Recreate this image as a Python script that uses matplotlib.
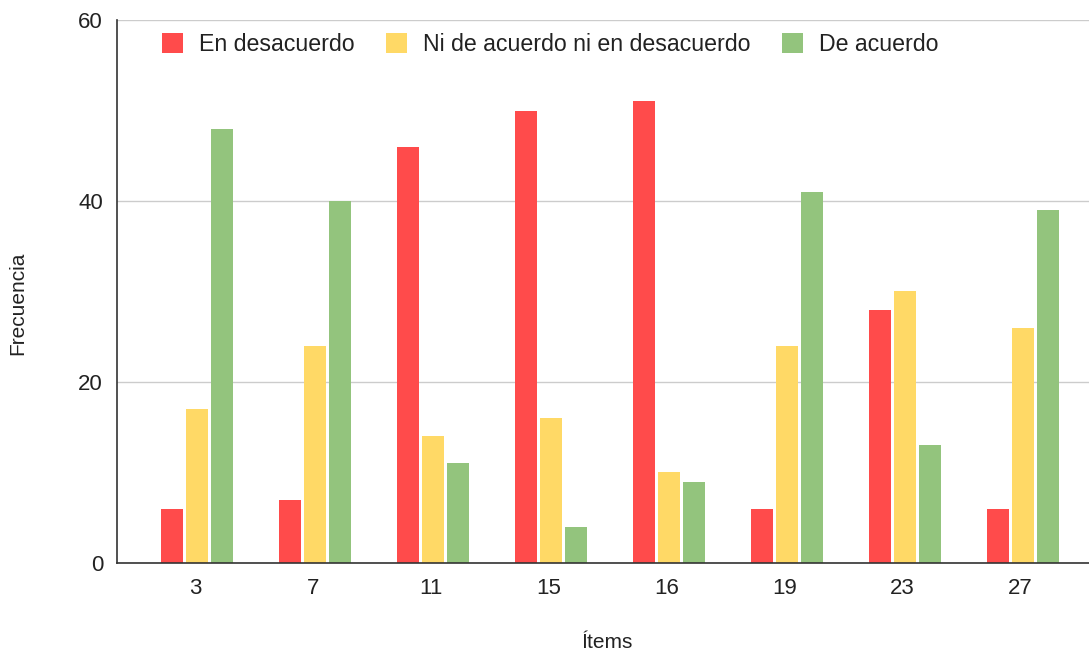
import numpy as np
from matplotlib import pyplot as plt

plt.rcParams['font.family'] = ['Liberation Sans', 'DejaVu Sans']

items = ['3', '7', '11', '15', '16', '19', '23', '27']
desacuerdo = [6, 7, 46, 50, 51, 6, 28, 6]
neutral = [17, 24, 14, 16, 10, 24, 30, 26]
acuerdo = [48, 40, 11, 4, 9, 41, 13, 39]

series = [
    ('En desacuerdo', desacuerdo, '#ff4b4b'),
    ('Ni de acuerdo ni en desacuerdo', neutral, '#ffd966'),
    ('De acuerdo', acuerdo, '#93c47d'),
]

fig = plt.figure(figsize=(10.89, 6.56), dpi=100)
ax = fig.add_axes([0.1074, 0.1418, 0.8926, 0.8277])

x = np.arange(len(items))
width = 0.186
step = 0.212
for i, (label, vals, color) in enumerate(series):
    ax.bar(x + (i - 1) * step + 0.02, vals, width, color=color, label=label, zorder=3)

ax.set_xlim(-0.66, 7.58)
ax.set_ylim(0, 60)
ax.set_yticks([0, 20, 40, 60])
ax.set_xticks(x)
ax.set_xticklabels(items)
ax.tick_params(length=0, labelsize=16, colors='#222222')
ax.tick_params(axis='y', pad=10)
ax.tick_params(axis='x', pad=11)
ax.grid(axis='y', color='#cccccc', linewidth=1, zorder=0)
for s in ['top', 'right']:
    ax.spines[s].set_visible(False)
for s in ['left', 'bottom']:
    ax.spines[s].set_color('#333333')
    ax.spines[s].set_linewidth(1.2)
    ax.spines[s].set_zorder(4)

ax.set_xlabel('Ítems', fontsize=15, color='#222222', va='center')
ax.set_ylabel('Frecuencia', fontsize=15, color='#222222', va='center')
ax.xaxis.set_label_coords(0.504, -0.147)
ax.yaxis.set_label_coords(-0.102, 0.478)

ax.legend(loc='center left', bbox_to_anchor=(0.046, 0.955), ncol=3, frameon=False,
          fontsize=16.7, handlelength=0.9, handleheight=0.9, columnspacing=1.35,
          handletextpad=0.7, borderaxespad=0, borderpad=0, labelcolor='#222222')

fig.savefig('out.png', dpi=100)
